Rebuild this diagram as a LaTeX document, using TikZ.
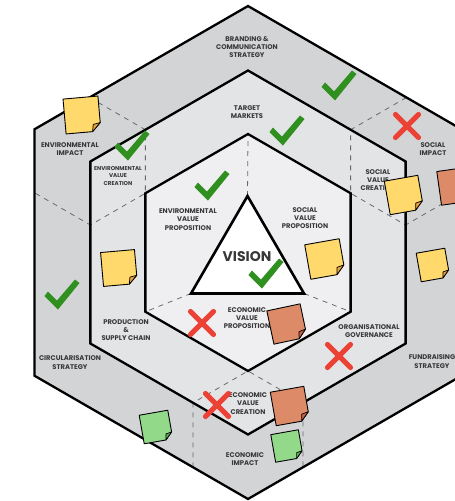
\documentclass[tikz,border=0pt]{standalone}
\usepackage{fontspec}
\setmainfont{Poppins}
\usetikzlibrary{calc}

\definecolor{ringout}{HTML}{D3D4D6}
\definecolor{ringmid}{HTML}{E3E4E6}
\definecolor{ringin}{HTML}{EFEFF1}
\definecolor{txt}{HTML}{383838}
\definecolor{dashgray}{HTML}{6A6A6A}
\definecolor{okgreen}{HTML}{2F8F1F}
\definecolor{nored}{HTML}{EC4236}
\definecolor{noteyellow}{HTML}{FFD96B}
\definecolor{foldyellow}{HTML}{E9A23B}
\definecolor{noteorange}{HTML}{DD8A68}
\definecolor{foldorange}{HTML}{C8603F}
\definecolor{notegreen}{HTML}{92D98A}
\definecolor{foldgreen}{HTML}{5FAE57}

% sticky note: centre, angle, size, body colour, fold colour
\newcommand\stickynote[5]{%
  \begin{scope}[shift={(#1)},rotate=#2]
    \pgfmathsetmacro\hs{#3/2}
    \pgfmathsetmacro\fd{#3*0.24}
    \draw[fill=#4, line width=0.9pt, line join=round]
      (-\hs,-\hs) -- (\hs,-\hs) -- (\hs,\hs-\fd) -- (\hs-\fd,\hs) -- (-\hs,\hs) -- cycle;
    \draw[fill=#5, line width=0.7pt, line join=round]
      (\hs,\hs-\fd) -- (\hs-\fd,\hs) -- (\hs-0.85*\fd,\hs-0.85*\fd) -- cycle;
  \end{scope}}

\tikzset{
  hexline/.style={line width=2.3pt, line join=miter},
  divider/.style={dashgray, line width=0.8pt, dash pattern=on 5pt off 5pt},
  lbl/.style={align=center, text=txt, inner sep=0pt,
    font=\fontsize{6.8}{8.3}\selectfont\bfseries},
  smalllbl/.style={align=center, text=txt, inner sep=0pt,
    font=\fontsize{5.6}{7.2}\selectfont\bfseries},
  checkmark/.pic={
    \fill[okgreen, line join=round] (-13.5,-11) -- (-10,-15.5) -- (-1,-6.5) -- (17,-27.5)
      -- (21.5,-24) -- (0,2.5) -- cycle;},
  crossmark/.pic={
    \draw[nored, line width=5.2pt, line cap=round] (-11.5,-11.5) -- (11.5,11.5)
      (-11.5,11.5) -- (11.5,-11.5);}
}

\begin{document}
\begin{tikzpicture}[x=1pt,y=-1pt]
  \useasboundingbox (0,0) rectangle (455,501);
  \clip (0,0) rectangle (455,501);
  \fill[white] (0,0) rectangle (455,501);

  % hexagon corners: o = outer, m = middle, i = inner
  \coordinate (C) at (248,252.5);
  \foreach \n/\r in {o/246.5,m/182,i/118.5}{
    \foreach \k/\a in {1/90,2/150,3/210,4/270,5/330,6/30}{
      \coordinate (\n\k) at ($(C)+({\r*cos(\a)},{-\r*sin(\a)})$);
    }
  }
  % triangle corners
  \coordinate (T1) at (247.5,196);
  \coordinate (T2) at (191,293.5);
  \coordinate (T3) at (304,293.5);

  % ring fills
  \fill[ringout] (o1)--(o2)--(o3)--(o4)--(o5)--(o6)--cycle;
  \fill[ringmid] (m1)--(m2)--(m3)--(m4)--(m5)--(m6)--cycle;
  \fill[ringin]  (i1)--(i2)--(i3)--(i4)--(i5)--(i6)--cycle;

  % environmental corner
  \coordinate (eA) at ($(i2)+(0,-63.5)$);
  \coordinate (eB) at ($(i2)+(-54.99,31.75)$);
  \coordinate (eC) at ($(eA)+(-55.86,-32.25)$);
  \coordinate (eD) at ($(eB)+(-55.86,-32.25)$);
  % social corner
  \coordinate (sA) at ($(i6)+(0,-63.5)$);
  \coordinate (sB) at ($(i6)+(54.99,31.75)$);
  \coordinate (sC) at ($(sA)+(55.86,-32.25)$);
  \coordinate (sD) at ($(sB)+(55.86,-32.25)$);
  % economic corner
  \coordinate (cA) at ($(i4)+(-54.99,31.75)$);
  \coordinate (cB) at ($(i4)+(54.99,31.75)$);
  \coordinate (cC) at ($(cA)+(0,64.5)$);
  \coordinate (cD) at ($(cB)+(0,64.5)$);

  \draw[divider] (eC) -- (eA) -- (i2) -- (eB) -- (eD);
  \draw[divider] (sC) -- (sA) -- (i6) -- (sB) -- (sD);
  \draw[divider] (cC) -- (cA) -- (i4) -- (cB) -- (cD);
  \draw[divider] (T1) -- (i1);
  \draw[divider] (T2) -- (i3);
  \draw[divider] (T3) -- (i5);

  % outlines
  \draw[hexline] (o1)--(o2)--(o3)--(o4)--(o5)--(o6)--cycle;
  \draw[hexline] (m1)--(m2)--(m3)--(m4)--(m5)--(m6)--cycle;
  \draw[hexline] (i1)--(i2)--(i3)--(i4)--(i5)--(i6)--cycle;
  \draw[line width=2.6pt, fill=white, line join=miter] (T1)--(T2)--(T3)--cycle;

  % labels
  \node[lbl] (branding) at (247,47) {BRANDING \&\\COMMUNICATION\\STRATEGY};
  \node[lbl] (markets) at (247,112) {TARGET\\MARKETS};
  \node[lbl] (envimp) at (70,149) {ENVIRONMENTAL\\IMPACT};
  \node[smalllbl] (envcre) at (118,176) {ENVIRONMENTAL\\VALUE\\CREATION};
  \node[lbl] (socimp) at (433,149) {SOCIAL\\IMPACT};
  \node[lbl] (soccre) at (378,180) {SOCIAL\\VALUE\\CREATION};
  \node[lbl] (envvp) at (188,219.5) {ENVIRONMENTAL\\VALUE\\PROPOSITION};
  \node[lbl] (socvp) at (305,218) {SOCIAL\\VALUE\\PROPOSITION};
  \node[text=txt, inner sep=0pt, font=\fontsize{14}{14}\selectfont\bfseries] (vision) at (247,257) {VISION};
  \node[lbl] (ecovp) at (247,318) {ECONOMIC\\VALUE\\PROPOSITION};
  \node[lbl] (supply) at (126,330) {PRODUCTION\\\&\\SUPPLY CHAIN};
  \node[lbl] (circ) at (70,362.5) {CIRCULARISATION\\STRATEGY};
  \node[lbl] (gov) at (369,331) {ORGANISATIONAL\\GOVERNANCE};
  \node[lbl] (fund) at (432,361.5) {FUNDRAISING\\STRATEGY};
  \node[lbl] (ecocre) at (248,403.5) {ECONOMIC\\VALUE\\CREATION};
  \node[lbl] (ecoimp) at (245,459) {ECONOMIC\\IMPACT};

  % sticky notes
  \stickynote{82,115}{5}{35}{noteyellow}{foldyellow}
  \stickynote{404,195}{10}{34}{noteyellow}{foldyellow}
  \stickynote{456,186}{8}{34}{noteorange}{foldorange}
  \stickynote{325,259}{10}{35}{noteyellow}{foldyellow}
  \stickynote{119,268}{5}{34}{noteyellow}{foldyellow}
  \stickynote{433,265}{10}{29}{noteyellow}{foldyellow}
  \stickynote{287,324}{12}{34}{noteorange}{foldorange}
  \stickynote{290,406}{10}{34}{noteorange}{foldorange}
  \stickynote{156,427}{10}{29}{notegreen}{foldgreen}
  \stickynote{287,446}{10}{28}{notegreen}{foldgreen}

  % ticks and crosses
  \pic at (335,98) {checkmark};
  \pic at (283,143) {checkmark};
  \pic at (128,158) {checkmark};
  \pic at (208,198) {checkmark};
  \pic at (262,286) {checkmark};
  \pic at (58,307) {checkmark};

  \pic at (407,126) {crossmark};
  \pic at (202,323) {crossmark};
  \pic at (339,356) {crossmark};
  \pic at (217,405) {crossmark};
\end{tikzpicture}
\end{document}
